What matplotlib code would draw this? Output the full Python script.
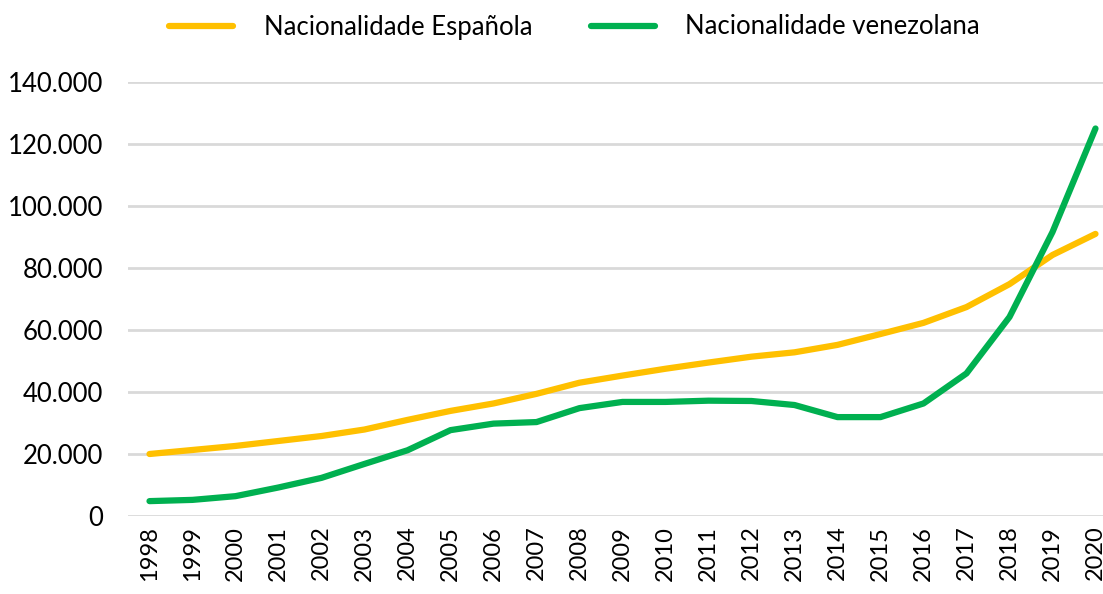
import matplotlib.pyplot as plt
from matplotlib.ticker import FuncFormatter

years = list(range(1998, 2021))
espanola = [20000, 21300, 22600, 24200, 25800, 27900, 31000, 33900, 36300, 39400,
            43000, 45300, 47500, 49500, 51400, 52800, 55200, 58700, 62300, 67400,
            74800, 84200, 91000]
venezolana = [4800, 5200, 6400, 9200, 12300, 16800, 21200, 27700, 29800, 30300,
              34800, 36800, 36800, 37200, 37100, 35800, 31900, 31900, 36300, 46000,
              64200, 91600, 125000]

plt.rcParams['font.family'] = ['Lato', 'DejaVu Sans']

fig = plt.figure(figsize=(11.03, 5.94), dpi=100)
ax = fig.add_axes([128 / 1103, 1 - 516 / 594, (1117 - 128) / 1103, (516 - 82) / 594])

x = list(range(len(years)))
ax.plot(x, espanola, color="#FFC000", lw=4.5, solid_capstyle="round",
        label="Nacionalidade Española")
ax.plot(x, venezolana, color="#00B050", lw=4.5, solid_capstyle="round",
        label="Nacionalidade venezolana")

ax.set_xlim(-0.5, len(years) - 0.5)
ax.set_ylim(0, 140000)
ax.set_yticks(range(0, 140001, 20000))
ax.yaxis.set_major_formatter(FuncFormatter(lambda v, p: f"{int(v):,}".replace(",", ".")))
ax.set_xticks(x)
ax.set_xticklabels([str(y) for y in years], rotation=90)
ax.tick_params(axis="both", length=0, colors="#000000")
ax.tick_params(axis="y", labelsize=18.5, pad=18)
ax.tick_params(axis="x", labelsize=17, pad=7)
ax.grid(axis="y", color="#D9D9D9", lw=2)
ax.set_axisbelow(True)
for s in ax.spines.values():
    s.set_visible(False)

fig.legend(loc="center", bbox_to_anchor=(0.521, 1 - 27 / 594), ncol=2, frameon=False,
           fontsize=18.5, handlelength=2.5, handletextpad=1.17, columnspacing=2.3)

fig.savefig("out.png", dpi=100)
